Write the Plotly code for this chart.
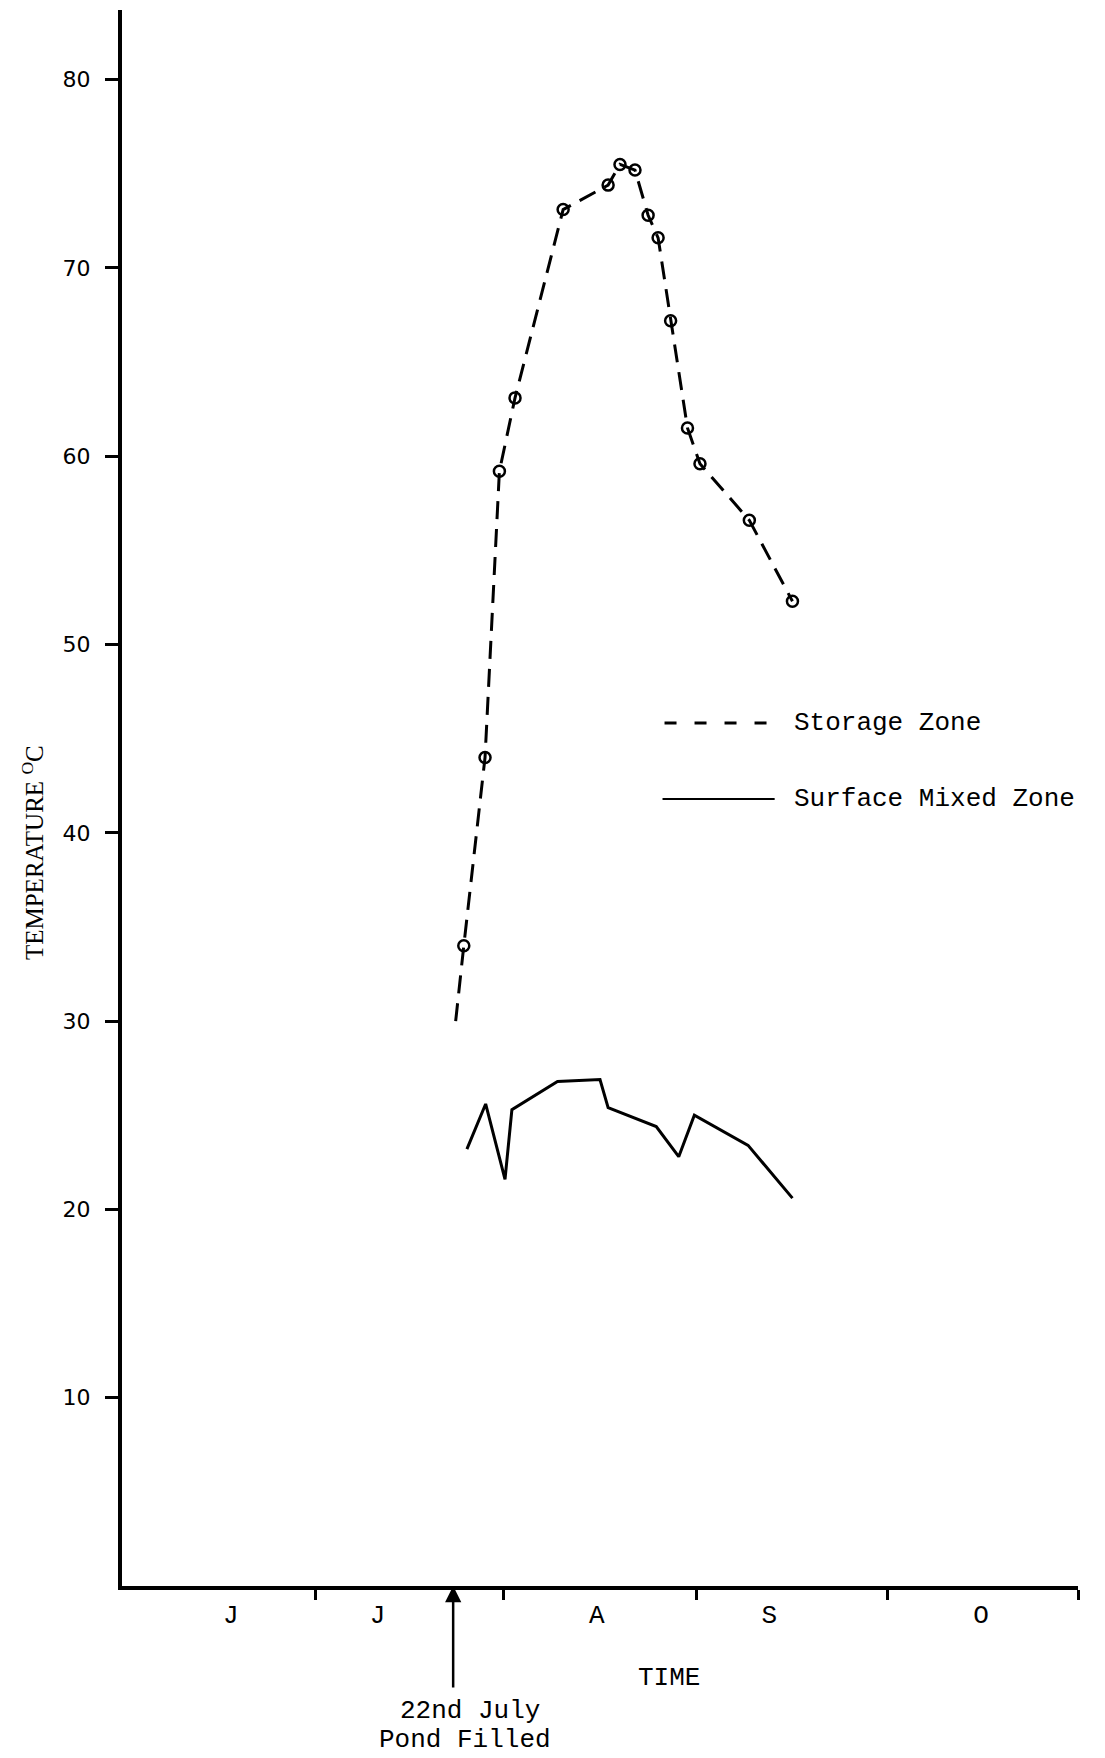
import plotly.graph_objects as go

# ---- data (x = days after 1 June, y = temperature degC) ----
storage_day = [53.4, 54.7, 58.1, 60.4, 62.9, 70.6, 77.8, 79.7, 82.1, 84.2, 85.8, 87.8, 90.5, 92.5, 100.4, 107.3]
storage_temp = [30.0, 34.0, 44.0, 59.2, 63.1, 73.1, 74.4, 75.5, 75.2, 72.8, 71.6, 67.2, 61.5, 59.6, 56.6, 52.3]

surface_day = [55.2, 58.2, 61.3, 62.4, 69.7, 76.5, 77.8, 85.5, 89.1, 91.6, 100.2, 107.3]
surface_temp = [23.2, 25.6, 21.6, 25.3, 26.8, 26.9, 25.4, 24.4, 22.8, 25.0, 23.4, 20.6]

month_bounds = [31, 61, 92, 122.5, 153]
month_label_pos = [17.4, 40.9, 76.0, 103.6, 137.5]
month_labels = ["J", "J", "A", "S", "O"]
y_ticks = [10, 20, 30, 40, 50, 60, 70, 80]
fill_day = 53

MONO = "Liberation Mono, Courier New, monospace"

fig = go.Figure()
fig.add_trace(go.Scatter(
    x=storage_day, y=storage_temp, mode="lines", name="Storage Zone",
    line=dict(color="black", width=3, dash="18px,10px"), showlegend=False))
fig.add_trace(go.Scatter(
    x=storage_day[1:], y=storage_temp[1:], mode="markers", name="Storage Zone points",
    marker=dict(symbol="circle-open", size=11, color="black", line=dict(width=2.5, color="black")),
    showlegend=False))
fig.add_trace(go.Scatter(
    x=surface_day, y=surface_temp, mode="lines", name="Surface Mixed Zone",
    line=dict(color="black", width=3), showlegend=False))

fig.update_layout(
    width=1105, height=1758,
    margin=dict(l=114, r=35, t=2, b=180),
    paper_bgcolor="white", plot_bgcolor="white",
    xaxis=dict(
        range=[0, 153], showgrid=False, zeroline=False,
        showline=True, linewidth=4, linecolor="black",
        tickmode="array", tickvals=month_label_pos, ticktext=month_labels,
        ticks="", tickfont=dict(family=MONO, size=26, color="black"),
        ticklabelstandoff=2,
        minor=dict(tickmode="array", tickvals=month_bounds, ticks="outside",
                   ticklen=10, tickwidth=2.5, tickcolor="black", showgrid=False),
    ),
    yaxis=dict(
        range=[0, 83.7], showgrid=False, zeroline=False,
        showline=True, linewidth=4, linecolor="black",
        tickmode="array", tickvals=y_ticks,
        ticks="outside", ticklen=13, tickwidth=3, tickcolor="black",
        tickfont=dict(family="DejaVu Sans, sans-serif", size=22, color="black"),
        ticklabelstandoff=10,
    ),
    showlegend=False,
)

# legend drawn inside the plot
fig.add_shape(type="line", xref="paper", yref="paper", x0=0.5675, x1=0.6806, y0=0.5476, y1=0.5476,
              line=dict(color="black", width=3, dash="12px,18px"))
fig.add_shape(type="line", xref="paper", yref="paper", x0=0.5654, x1=0.6827, y0=0.4994, y1=0.4994,
              line=dict(color="black", width=2))
fig.add_annotation(text="Storage Zone", xref="paper", yref="paper", x=0.7005, y=0.5476,
                   xanchor="left", yanchor="middle", showarrow=False,
                   font=dict(family=MONO, size=26, color="black"))
fig.add_annotation(text="Surface Mixed Zone", xref="paper", yref="paper", x=0.7005, y=0.4994,
                   xanchor="left", yanchor="middle", showarrow=False,
                   font=dict(family=MONO, size=26, color="black"))

# axis titles
fig.add_annotation(text="TEMPERATURE <sup>O</sup>C", xref="paper", yref="paper", x=-0.0931, y=0.4657,
                   textangle=-90, xanchor="center", yanchor="middle", showarrow=False,
                   font=dict(family="Liberation Serif, Times New Roman, serif", size=25, color="black"))
fig.add_annotation(text="TIME", xref="paper", yref="paper", x=0.5722, y=-0.0584,
                   xanchor="center", yanchor="middle", showarrow=False,
                   font=dict(family=MONO, size=26, color="black"))

# pond filled arrow
fig.add_annotation(text="", x=fill_day, y=0, xref="x", yref="y", ax=0, ay=103,
                   showarrow=True, arrowhead=2, arrowsize=1.3, arrowwidth=2.5, arrowcolor="black")
fig.add_annotation(text="22nd July", xref="paper", yref="paper", x=0.364, y=-0.0793,
                   xanchor="center", yanchor="middle", showarrow=False,
                   font=dict(family=MONO, size=26, color="black"))
fig.add_annotation(text="Pond Filled", xref="paper", yref="paper", x=0.3588, y=-0.0977,
                   xanchor="center", yanchor="middle", showarrow=False,
                   font=dict(family=MONO, size=26, color="black"))

fig.write_html("out.html")
